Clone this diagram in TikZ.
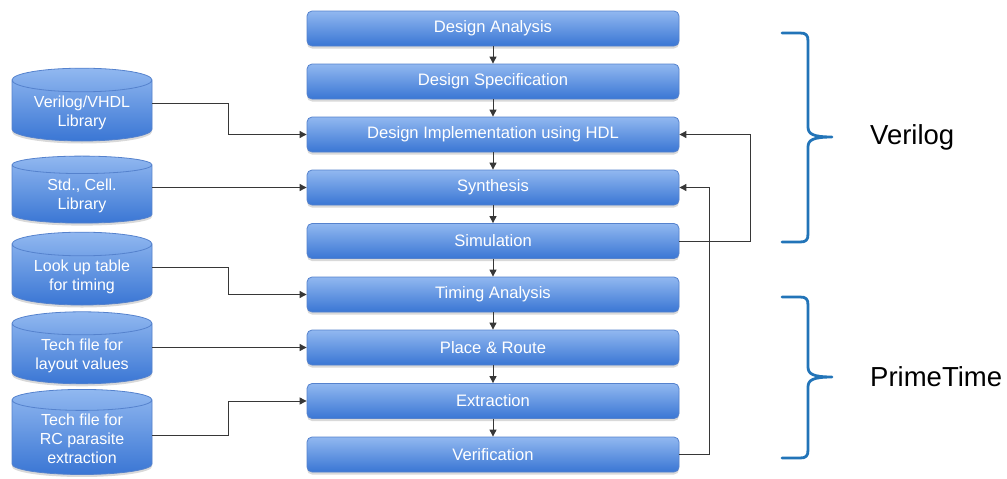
\documentclass[tikz,border=0pt]{standalone}
\usepackage{fontspec}
\setmainfont{Liberation Sans}
\usetikzlibrary{shapes.geometric,arrows.meta,shadows,calc}
\definecolor{boxtop}{RGB}{145,184,240}
\definecolor{boxbot}{RGB}{58,118,212}
\definecolor{boxedge}{RGB}{85,130,205}
\definecolor{bracecol}{RGB}{34,116,184}
\definecolor{linecol}{RGB}{55,55,55}
\begin{document}
\begin{tikzpicture}[x=1pt,y=-1pt,
 stepbox/.style={rectangle, rounded corners=5pt, minimum width=372pt, minimum height=35pt,
   draw=boxedge, line width=0.8pt, top color=boxtop, bottom color=boxbot, text=white,
   font=\fontsize{16.6}{19}\selectfont,
   drop shadow={opacity=0.3, shadow xshift=0pt, shadow yshift=-2.5pt}},
 db/.style={cylinder, shape border rotate=90, aspect=0.23, minimum width=140pt,
   draw=boxedge, line width=0.8pt, top color=boxtop, bottom color=boxbot, text=white,
   align=center, font=\fontsize{16}{19}\selectfont,
   drop shadow={opacity=0.3, shadow xshift=0pt, shadow yshift=-2.5pt}},
 arr/.style={draw=linecol, line width=0.9pt, -{Triangle[length=7pt,width=7pt]}},
 bracestyle/.style={draw=bracecol, line width=2.8pt, line cap=round, line join=round},
 side/.style={font=\fontsize{27.5}{31}\selectfont, anchor=west, text=black, inner sep=0pt}]
\useasboundingbox (0,0) rectangle (1007,479);

% main flow
\node[stepbox] (ana)  at (493,28.5)  {Design Analysis};
\node[stepbox] (spec) at (493,81.5)  {Design Specification};
\node[stepbox] (impl) at (493,134.5) {Design Implementation using HDL};
\node[stepbox] (syn)  at (493,187.5) {Synthesis};
\node[stepbox] (sim)  at (493,241)   {Simulation};
\node[stepbox] (tim)  at (493,294.5) {Timing Analysis};
\node[stepbox] (pr)   at (493,347.5) {Place \& Route};
\node[stepbox] (ext)  at (493,401)   {Extraction};
\node[stepbox] (ver)  at (493,454.5) {Verification};

% libraries
\node[db, minimum height=67pt] (c1) at (82,112.5) {Verilog/VHDL\\Library};
\node[db, minimum height=67pt] (c2) at (82,195.5) {Std., Cell.\\Library};
\node[db, minimum height=69pt] (c3) at (82,276.5) {Look up table\\for timing};
\node[db, minimum height=67pt] (c4) at (82,355.5) {Tech file for\\layout values};
\node[db, minimum height=74pt] (c5) at (82,439)   {Tech file for\\RC parasite\\extraction};

% vertical arrows
\draw[arr] (ana) -- (spec);
\draw[arr] (spec) -- (impl);
\draw[arr] (impl) -- (syn);
\draw[arr] (syn) -- (sim);
\draw[arr] (sim) -- (tim);
\draw[arr] (tim) -- (pr);
\draw[arr] (pr) -- (ext);
\draw[arr] (ext) -- (ver);

% library inputs
\draw[arr] ([yshift=9pt]c1.east) -| ([xshift=-78pt]impl.west) -- (impl.west);
\draw[arr] (c2.east |- syn.west) -- (syn.west);
\draw[arr] ([yshift=9pt]c3.east) -| ([xshift=-78pt]tim.west) -- (tim.west);
\draw[arr] (c4.east |- pr.west) -- (pr.west);
\draw[arr] ([yshift=4pt]c5.east) -| ([xshift=-78pt]ext.west) -- (ext.west);

% feedback
\draw[arr] (sim.east) -| ([xshift=71pt]impl.east) -- (impl.east);
\draw[arr] (ver.east) -| ([xshift=30pt]syn.east) -- (syn.east);

% braces
\draw[bracestyle] (782,33) -- (800,33) .. controls (806,33) and (808,35) .. (808,41)
  -- (808,127) .. controls (808,134) and (813,137) .. (832,137)
  .. controls (813,137) and (808,140) .. (808,147)
  -- (808,234) .. controls (808,240) and (806,242) .. (800,242) -- (782,242);
\draw[bracestyle] (782,297) -- (800,297) .. controls (806,297) and (808,299) .. (808,305)
  -- (808,367) .. controls (808,374) and (813,377) .. (832,377)
  .. controls (813,377) and (808,380) .. (808,387)
  -- (808,450) .. controls (808,456) and (806,458) .. (800,458) -- (782,458);
\node[side] (vl) at (870,137) {Verilog};
\node[side] (pt) at (870,377) {PrimeTime};
\end{tikzpicture}
\end{document}
